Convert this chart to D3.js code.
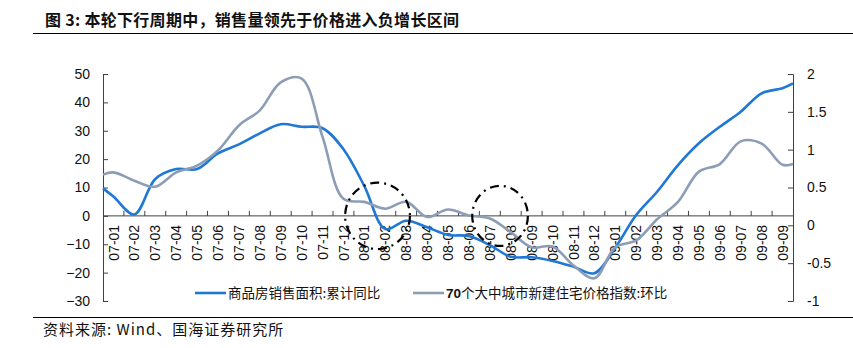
<!DOCTYPE html>
<html><head><meta charset="utf-8">
<script src="https://cdn.jsdelivr.net/npm/d3@7"></script>
<style>body{margin:0;background:#fff}svg{display:block}</style>
</head><body>
<svg id="c" width="853" height="348"></svg>
<script>
const months = ["07-01","07-02","07-03","07-04","07-05","07-06","07-07","07-08","07-09","07-10","07-11","07-12",
"08-01","08-02","08-03","08-04","08-05","08-06","08-07","08-08","08-09","08-10","08-11","08-12",
"09-01","09-02","09-03","09-04","09-05","09-06","09-07","09-08","09-09"];
// 商品房销售面积:累计同比 (%), left axis
const salesArea = [6.8,0.5,13,16.5,16.5,22,25.2,29.1,32.3,31.4,30.9,23.5,10.5,-4.6,-1.7,-4,-6.7,-7.1,-10.3,-14.4,-14.6,-15.9,-17.9,-20.2,-11.2,0.3,8.5,17.9,25.6,31.4,36.7,43.2,45];
const salesEdges = [9.7,46.7];
// 70个大中城市新建住宅价格指数:环比 (%), right axis
const priceMoM = [0.70,0.59,0.51,0.70,0.79,0.99,1.32,1.52,1.89,1.94,1.17,0.35,0.31,0.22,0.31,0.11,0.21,0.13,0.09,-0.09,-0.29,-0.28,-0.53,-0.70,-0.29,-0.20,0.08,0.31,0.71,0.81,1.11,1.08,0.80];
const priceEdges = [0.67,0.81];
const leftTicks = [50,40,30,20,10,0,-10,-20,-30];
const rightTicks = [2,1.5,1,0.5,0,-0.5,-1];
const seriesNames = ["商品房销售面积:累计同比","70个大中城市新建住宅价格指数:环比"];
// highlight ellipses: centre (month index), half width (months), half height (left-axis units)
const highlights = [{c:12.63,hw:1.55,hh:11.7},{c:18.49,hw:1.33,hh:10.6}];

const svg = d3.select("#c");
const L=103, R=793, T=74, B=301;
const x = d3.scaleLinear().domain([-0.5, months.length-0.5]).range([L,R]);
const yL = d3.scaleLinear().domain([-30,50]).range([B,T]);
const yR = d3.scaleLinear().domain([-1,2]).range([B,T]);
const axisCol = "#404040";
const cjk = "'Noto Sans CJK SC', sans-serif";
const lat = "'Liberation Sans', Arial, sans-serif";

// title
svg.append("text").attr("x",45).attr("y",26).attr("font-family",cjk).attr("font-weight","bold")
  .attr("font-size",16).attr("letter-spacing",0.3).attr("fill","#111").text("图 3: 本轮下行周期中，销售量领先于价格进入负增长区间");
svg.append("line").attr("x1",33).attr("x2",853).attr("y1",33.5).attr("y2",33.5).attr("stroke","#000");
svg.append("line").attr("x1",33).attr("x2",853).attr("y1",317.5).attr("y2",317.5).attr("stroke","#000");
svg.append("text").attr("x",43).attr("y",335).attr("font-family",cjk).attr("font-size",15).attr("letter-spacing",1)
  .attr("fill","#111").text("资料来源: Wind、国海证券研究所");

// left axis
const gl = svg.append("g").attr("transform",`translate(${L},0)`)
  .call(d3.axisLeft(yL).tickValues(leftTicks).tickSize(-5).tickPadding(13).tickFormat(d3.format("d")));
gl.select(".domain").attr("stroke",axisCol);
gl.selectAll(".tick line").attr("stroke",axisCol);
gl.selectAll("text").attr("font-family",lat).attr("font-size",14).attr("fill","#111");
// right axis
const gr = svg.append("g").attr("transform",`translate(${R},0)`)
  .call(d3.axisRight(yR).tickValues(rightTicks).tickSize(-5).tickPadding(14).tickFormat(d=>String(d)));
gr.select(".domain").attr("stroke",axisCol);
gr.selectAll(".tick line").attr("stroke",axisCol);
gr.selectAll("text").attr("font-family",lat).attr("font-size",14).attr("fill","#111");

// x axis on left-axis zero line
const y0 = yL(0);
const gx = svg.append("g");
gx.append("line").attr("x1",L).attr("x2",R).attr("y1",y0).attr("y2",y0).attr("stroke",axisCol);
gx.selectAll("line.t").data(d3.range(1,months.length)).join("line").attr("class","t")
  .attr("x1",d=>x(d-0.5)).attr("x2",d=>x(d-0.5)).attr("y1",y0).attr("y2",y0-5).attr("stroke",axisCol);
gx.selectAll("text").data(months).join("text")
  .attr("transform",(d,i)=>`translate(${x(i)},${y0+9}) rotate(-90)`)
  .attr("text-anchor","end").attr("dy","0.36em")
  .attr("font-family",lat).attr("font-size",14).attr("fill","#111").text(d=>d);

// lines
function pts(vals, edges){
  const a=[[-0.5,edges[0]]];
  vals.forEach((v,i)=>a.push([i,v]));
  a.push([months.length-0.5,edges[1]]);
  return a;
}
const lnL = d3.line().x(d=>x(d[0])).y(d=>yL(d[1])).curve(d3.curveCatmullRom.alpha(0.5));
const lnR = d3.line().x(d=>x(d[0])).y(d=>yR(d[1])).curve(d3.curveCatmullRom.alpha(0.5));
const blue="#1f78d6", gray="#8d9db6";
svg.append("path").attr("d",lnL(pts(salesArea,salesEdges))).attr("fill","none").attr("stroke",blue).attr("stroke-width",2.6);
svg.append("path").attr("d",lnR(pts(priceMoM,priceEdges))).attr("fill","none").attr("stroke",gray).attr("stroke-width",2.6);

// legend
const lg = [{x:195,c:blue,n:seriesNames[0]},{x:413,c:gray,n:seriesNames[1]}];
lg.forEach(o=>{
  svg.append("line").attr("x1",o.x).attr("x2",o.x+31).attr("y1",293).attr("y2",293).attr("stroke",o.c).attr("stroke-width",2.6);
  const t = svg.append("text").attr("x",o.x+33).attr("y",298).attr("font-family",cjk).attr("font-size",13.5).attr("fill","#111");
  if(o.n.startsWith("70")){
    t.append("tspan").attr("font-family",lat).attr("font-weight","bold").text("70");
    t.append("tspan").text(o.n.slice(2));
  } else t.text(o.n);
});

// highlight ellipses
highlights.forEach(h=>{
  svg.append("ellipse").attr("cx",x(h.c)).attr("cy",yL(0)).attr("rx",x(h.c+h.hw)-x(h.c)).attr("ry",yL(0)-yL(h.hh))
    .attr("fill","none").attr("stroke","#000").attr("stroke-width",2.2).attr("stroke-dasharray","9,5,2,5");
});
</script>
</body></html>
